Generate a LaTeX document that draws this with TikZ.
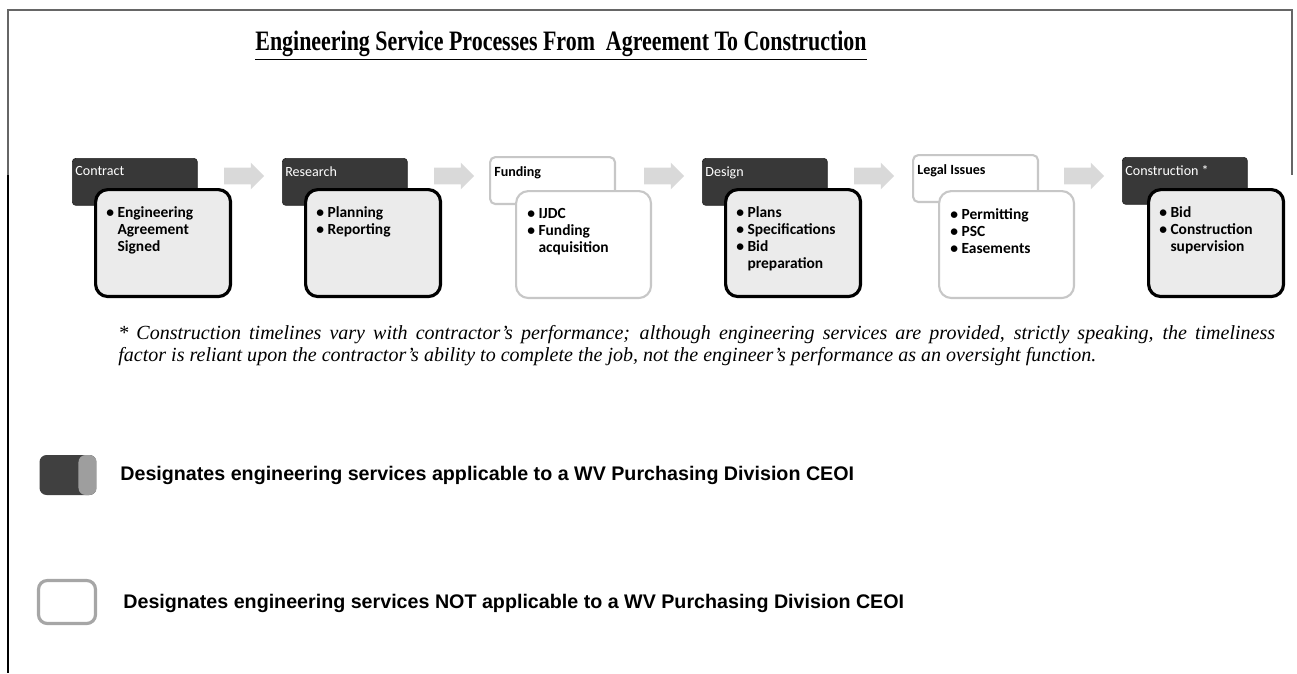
\documentclass[tikz,border=0pt]{standalone}
\usepackage{fontspec}
\setmainfont{Liberation Serif}
\newfontfamily\calibrifont{Carlito}
\newfontfamily\arialfont{Liberation Sans}
\usetikzlibrary{shapes.arrows}

\tikzset{
  hdark/.style={draw=black!85, fill=black!78, rounded corners=2pt, minimum width=2.5cm, minimum height=0.94cm, inner sep=0pt},
  hlight/.style={draw=black!22, line width=1.2pt, fill=white, rounded corners=3pt, minimum width=2.5cm, minimum height=0.94cm, inner sep=0pt},
  bdark/.style={draw=black, line width=1.8pt, fill=black!8, rounded corners=7pt, minimum width=2.7cm, minimum height=2.14cm, inner sep=0pt},
  blight/.style={draw=black!22, line width=1.2pt, fill=white, rounded corners=7pt, minimum width=2.7cm, minimum height=2.14cm, inner sep=0pt},
  htextw/.style={text=white, font=\calibrifont\fontsize{8}{9}\selectfont, inner sep=0pt, anchor=north west},
  htextb/.style={text=black, font=\calibrifont\bfseries\fontsize{8}{9}\selectfont, inner sep=0pt, anchor=north west},
  btext/.style={font=\calibrifont\bfseries\fontsize{8.8}{9.8}\selectfont, align=left, inner sep=0pt, anchor=north west},
  flow/.style={single arrow, fill=black!15, draw=none, inner xsep=0pt, inner ysep=0.16cm, minimum height=0.8cm, single arrow head extend=0.1cm},
  keytext/.style={font=\arialfont\bfseries\fontsize{11.2}{13}\selectfont, anchor=west, inner sep=0pt}
}

\begin{document}
\begin{tikzpicture}[x=0.02cm, y=-0.02cm]
\useasboundingbox (0,0) rectangle (1297,673);

% frame
\draw[black!60, line width=0.9pt] (8,175) -- (8,10) -- (1292,10) -- (1292,175);
\draw[black, line width=0.9pt] (8,175) -- (8,673);

% title
\node[font=\bfseries\fontsize{16}{18}\selectfont] (title) at (561,46)
  {\scalebox{0.78}[1]{\underline{Engineering Service Processes From\ \ Agreement To Construction}}};

% contract
\node[hdark, anchor=north west] (h1) at (72,158) {};
\node[htextw] (t1) at ([shift={(3,8)}]h1.north west) {Contract};
\node[bdark, anchor=north west] (c1) at (94,188) {};
\node[btext] (b1) at ([shift={(12,18)}]c1.north west) {• Engineering\\\phantom{• }Agreement\\\phantom{• }Signed};
\node[flow] (a1) at (240,176) {};

% research
\node[hdark, anchor=north west] (h2) at (282,158) {};
\node[htextw] (t2) at ([shift={(3,8)}]h2.north west) {Research};
\node[bdark, anchor=north west] (c2) at (304,188) {};
\node[btext] (b2) at ([shift={(12,18)}]c2.north west) {• Planning\\• Reporting};
\node[flow] (a2) at (450,176) {};

% funding
\node[hlight, anchor=north west] (h3) at (489,156) {};
\node[htextb] (t3) at ([shift={(5,10)}]h3.north west) {Funding};
\node[blight, anchor=north west] (c3) at (515,190) {};
\node[btext] (b3) at ([shift={(12,18)}]c3.north west) {• IJDC\\• Funding\\\phantom{• }acquisition};
\node[flow] (a3) at (660,176) {};

% design
\node[hdark, anchor=north west] (h4) at (702,158) {};
\node[htextw] (t4) at ([shift={(3,8)}]h4.north west) {Design};
\node[bdark, anchor=north west] (c4) at (724,188) {};
\node[btext] (b4) at ([shift={(12,18)}]c4.north west) {• Plans\\• Specifications\\• Bid\\\phantom{• }preparation};
\node[flow] (a4) at (870,176) {};

% legal issues
\node[hlight, anchor=north west] (h5) at (912,154) {};
\node[htextb] (t5) at ([shift={(5,10)}]h5.north west) {Legal Issues};
\node[blight, anchor=north west] (c5) at (938,190) {};
\node[btext] (b5) at ([shift={(12,18)}]c5.north west) {• Permitting\\• PSC\\• Easements};
\node[flow] (a5) at (1080,176) {};

% construction
\node[hdark, anchor=north west] (h6) at (1122,157) {};
\node[htextw] (t6) at ([shift={(3,8)}]h6.north west) {Construction *};
\node[bdark, anchor=north west] (c6) at (1147,188) {};
\node[btext] (b6) at ([shift={(12,18)}]c6.north west) {• Bid\\• Construction\\\phantom{• }supervision};

% footnote
\node[anchor=north west, inner sep=0pt, text width=23.14cm, align=justify,
      font=\itshape\fontsize{11.4}{12.8}\selectfont] (note) at (118,325)
  {* Construction timelines vary with contractor’s performance; although engineering services are provided, strictly speaking, the timeliness\linebreak
   factor is reliant upon the contractor’s ability to complete the job, not the engineer’s performance as an oversight function.};

% legend
\node[fill=black!75, rounded corners=4pt, minimum width=1.14cm, minimum height=0.8cm, inner sep=0pt,
      path picture={\fill[black!38] ([xshift=-0.36cm]path picture bounding box.north east) rectangle (path picture bounding box.south east);}] (k1) at (68,475) {};
\node[keytext] (l1) at (120,475) {Designates engineering services applicable to a WV Purchasing Division CEOI};
\node[draw=black!35, line width=1.8pt, fill=white, rounded corners=5pt, minimum width=1.14cm, minimum height=0.86cm, inner sep=0pt] (k2) at (67,602) {};
\node[keytext] (l2) at (123,603) {Designates engineering services NOT applicable to a WV Purchasing Division CEOI};
\end{tikzpicture}
\end{document}
